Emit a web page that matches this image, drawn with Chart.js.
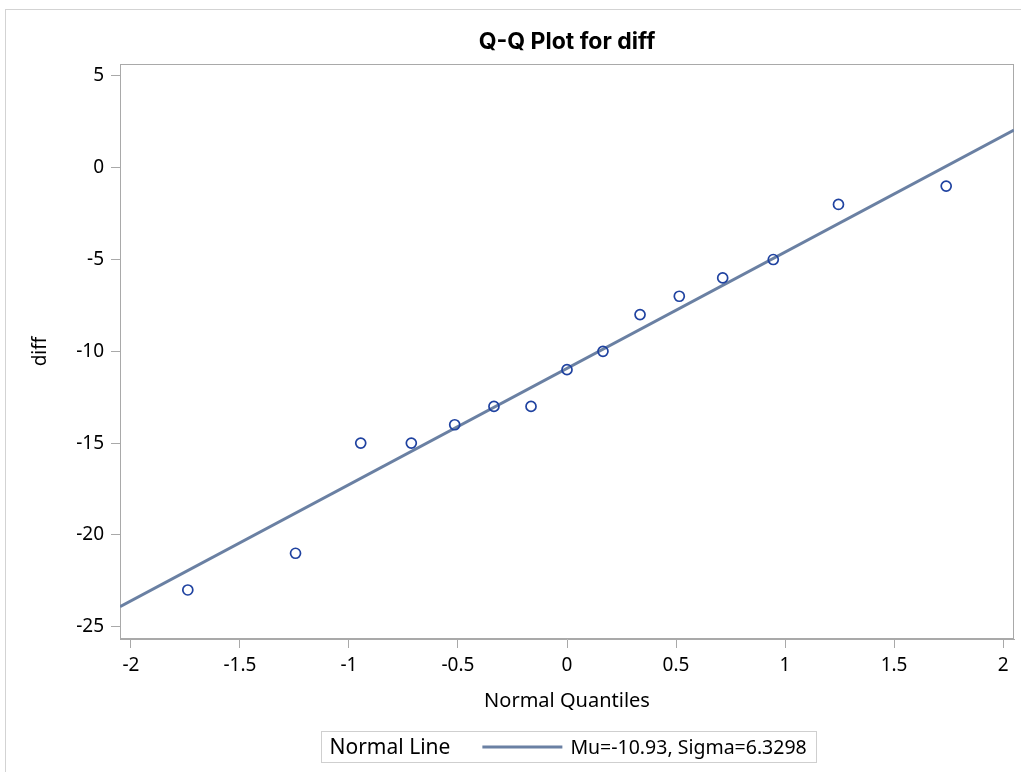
<!DOCTYPE html>
<html>
<head>
<meta charset="utf-8">
<script src="https://cdn.jsdelivr.net/npm/chart.js@4/dist/chart.umd.min.js"></script>
<style>
  html, body { margin: 0; padding: 0; background: #fff; overflow: hidden; }
  canvas { display: block; }
</style>
</head>
<body>
<canvas id="qq" width="1021" height="772"></canvas>
<script>
// Normal quantiles (x) and sorted observations of diff (y)
const normalQuantiles = [-1.739, -1.245, -0.946, -0.714, -0.515, -0.335, -0.165, 0, 0.165, 0.335, 0.515, 0.714, 0.946, 1.245, 1.739];
const diffValues = [-23, -21, -15, -15, -14, -13, -13, -11, -10, -8, -7, -6, -5, -2, -1];

// Fitted normal reference line parameters
const mu = -10.93;
const sigma = 6.3298;

// Axis ticks and extents
const xTickValues = [-2, -1.5, -1, -0.5, 0, 0.5, 1, 1.5, 2];
const yTickValues = [-25, -20, -15, -10, -5, 0, 5];
const xRange = [-2.05, 2.05];
const yRange = [-25.67, 5.65];

const FONT = "'Noto Sans', 'Open Sans', sans-serif";
const AXIS_GREY = '#a9a9a9';
const LINE_COLOR = '#6a80a3';
const MARKER_COLOR = '#1f42a0';

const normalLine = xRange.map(x => ({ x: x, y: mu + sigma * x }));
const points = normalQuantiles.map((q, i) => ({ x: q, y: diffValues[i] }));

const framePlugin = {
  id: 'frames',
  beforeDraw(chart) {
    const ctx = chart.ctx;
    ctx.save();
    ctx.fillStyle = '#fff';
    ctx.fillRect(0, 0, chart.width, chart.height);
    ctx.strokeStyle = '#d3d3d3';
    ctx.lineWidth = 1;
    ctx.strokeRect(5.5, 9.5, chart.width + 20, chart.height + 20);
    ctx.restore();
  },
  beforeDatasetsDraw(chart) {
    const { ctx, chartArea: a } = chart;
    ctx.save();
    ctx.strokeStyle = AXIS_GREY;
    ctx.lineWidth = 1;
    ctx.strokeRect(Math.round(a.left) + 0.5, Math.round(a.top) + 0.5,
                   Math.round(a.right - a.left) - 1, Math.round(a.bottom - a.top) - 1);
    ctx.restore();
  },
  afterDraw(chart) {
    const { ctx, chartArea: a } = chart;
    const label = 'Normal Line';
    const entry = 'Mu=' + mu.toFixed(2) + ', Sigma=' + sigma.toFixed(4);
    ctx.save();
    ctx.font = '21px ' + FONT;
    const w1 = ctx.measureText(label).width;
    ctx.font = '19.5px ' + FONT;
    const w2 = ctx.measureText(entry).width;
    const padL = 8, gap1 = 32, sample = 80, gap2 = 8, padR = 10;
    const boxW = padL + w1 + gap1 + sample + gap2 + w2 + padR;
    const cx = (a.left + a.right) / 2 + 2;
    const x0 = Math.round(cx - boxW / 2) + 0.5;
    const y0 = 731.5, boxH = 31;
    const cy = y0 + boxH / 2;
    ctx.strokeStyle = '#cfcfcf';
    ctx.lineWidth = 1;
    ctx.strokeRect(x0, y0, Math.round(boxW), boxH);
    ctx.fillStyle = '#000';
    ctx.textBaseline = 'middle';
    ctx.textAlign = 'left';
    ctx.font = '21px ' + FONT;
    ctx.fillText(label, x0 + padL, cy + 1);
    const lx = x0 + padL + w1 + gap1;
    ctx.strokeStyle = LINE_COLOR;
    ctx.lineWidth = 3;
    ctx.beginPath();
    ctx.moveTo(lx, cy);
    ctx.lineTo(lx + sample, cy);
    ctx.stroke();
    ctx.font = '19.5px ' + FONT;
    ctx.fillText(entry, lx + sample + gap2, cy + 1);
    ctx.restore();
  }
};

new Chart(document.getElementById('qq'), {
  type: 'scatter',
  data: {
    datasets: [
      {
        type: 'line',
        label: 'Normal Line',
        data: normalLine,
        borderColor: LINE_COLOR,
        borderWidth: 3,
        pointRadius: 0,
        fill: false,
        order: 2
      },
      {
        type: 'scatter',
        label: 'diff',
        data: points,
        pointStyle: 'circle',
        pointRadius: 5,
        borderWidth: 1.7,
        borderColor: MARKER_COLOR,
        backgroundColor: 'rgba(255,255,255,0)',
        order: 1
      }
    ]
  },
  options: {
    responsive: false,
    animation: false,
    devicePixelRatio: 1,
    layout: { padding: { left: 0, right: 7, top: 0, bottom: 52 } },
    plugins: {
      legend: { display: false },
      tooltip: { enabled: false },
      title: {
        display: true,
        text: 'Q-Q Plot for diff',
        fullSize: false,
        color: '#000',
        font: { family: "Inter, 'Liberation Sans', sans-serif", size: 23, weight: 'bold', lineHeight: 1.2 },
        padding: { top: 28.2, bottom: 8.2 }
      }
    },
    scales: {
      x: {
        type: 'linear',
        min: xRange[0],
        max: xRange[1],
        afterBuildTicks: s => { s.ticks = xTickValues.map(v => ({ value: v })); },
        afterFit: s => { s.height = 81; },
        ticks: {
          callback: v => String(v),
          color: '#000',
          font: { family: FONT, size: 19 },
          padding: 6,
          maxRotation: 0,
          autoSkip: false
        },
        grid: { drawOnChartArea: false, drawTicks: true, tickLength: 9, color: AXIS_GREY, lineWidth: 1 },
        border: { display: true, color: AXIS_GREY, width: 1 },
        title: {
          display: true,
          text: 'Normal Quantiles',
          color: '#000',
          font: { family: FONT, size: 20, lineHeight: 1.2 },
          padding: { top: 0, bottom: 7 }
        }
      },
      y: {
        type: 'linear',
        min: yRange[0],
        max: yRange[1],
        afterBuildTicks: s => { s.ticks = yTickValues.map(v => ({ value: v })); },
        afterFit: s => { s.width = 120; },
        ticks: {
          callback: v => String(v),
          color: '#000',
          font: { family: FONT, size: 19 },
          padding: 7,
          autoSkip: false
        },
        grid: { drawOnChartArea: false, drawTicks: true, tickLength: 9, color: AXIS_GREY, lineWidth: 1 },
        border: { display: true, color: AXIS_GREY, width: 1 },
        title: {
          display: true,
          text: 'diff',
          color: '#000',
          font: { family: FONT, size: 19, lineHeight: 1.2 },
          padding: { top: 29, bottom: 0 }
        }
      }
    }
  },
  plugins: [framePlugin]
});
</script>
</body>
</html>
